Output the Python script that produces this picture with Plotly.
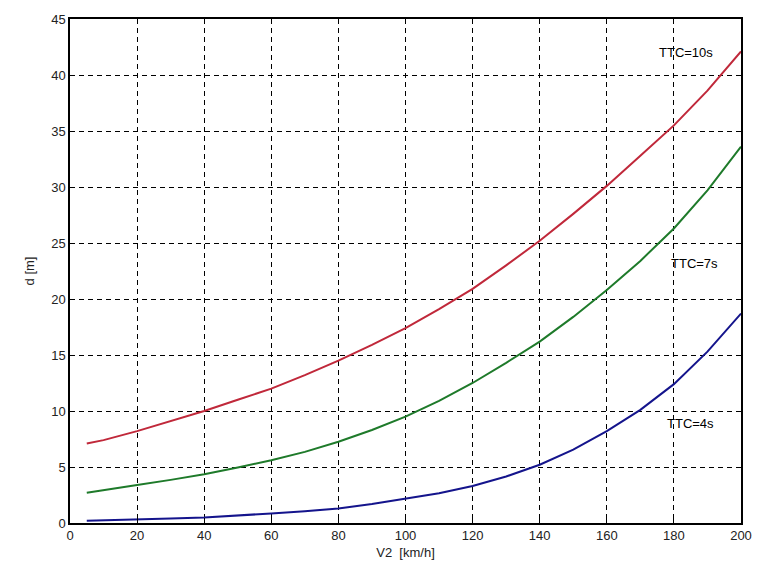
import plotly.graph_objects as go

v2 = [5, 10, 20, 30, 40, 50, 60, 70, 80, 90, 100, 110, 120, 130, 140, 150, 160, 170, 180, 190, 200]
d_ttc10 = [7.1, 7.4, 8.2, 9.1, 10.0, 11.0, 12.0, 13.2, 14.5, 15.9, 17.4, 19.1, 20.9, 23.0, 25.2,
           27.6, 30.1, 32.8, 35.5, 38.6, 42.1]
d_ttc7 = [2.7, 2.95, 3.4, 3.85, 4.35, 4.95, 5.6, 6.35, 7.25, 8.3, 9.5, 10.9, 12.5, 14.3, 16.2,
          18.4, 20.8, 23.4, 26.3, 29.7, 33.6]
d_ttc4 = [0.2, 0.23, 0.3, 0.4, 0.5, 0.65, 0.85, 1.05, 1.3, 1.7, 2.15, 2.65, 3.3, 4.15, 5.2,
          6.55, 8.2, 10.1, 12.4, 15.3, 18.7]

labels = ["TTC=10s", "TTC=7s", "TTC=4s"]
label_x = [183.5, 186, 185]
label_y = [42, 23.2, 8.9]

series = [d_ttc10, d_ttc7, d_ttc4]
colors = ["#c0283a", "#1e7a2a", "#14148c"]

fig = go.Figure()
for ys, c, name in zip(series, colors, labels):
    fig.add_trace(go.Scatter(x=v2, y=ys, mode="lines", name=name,
                             line=dict(color=c, width=2)))

for t, x, y in zip(labels, label_x, label_y):
    fig.add_annotation(x=x, y=y, text=t, showarrow=False, xref="x", yref="y",
                       font=dict(family="Liberation Sans, Arial", size=13, color="black"))

axis_common = dict(
    showline=True, linecolor="black", linewidth=1.5, mirror="allticks",
    ticks="inside", ticklen=5, tickcolor="black", tickwidth=1,
    showgrid=True, gridcolor="black", gridwidth=1.3, griddash="5px,4px",
    zeroline=False,
    tickfont=dict(family="Liberation Sans, Arial", size=13, color="#222"),
)

fig.update_xaxes(range=[0, 200], tickvals=list(range(0, 201, 20)),
                 title=dict(text="V2  [km/h]", standoff=6,
                            font=dict(family="Liberation Sans, Arial", size=13, color="#222")),
                 **axis_common)
fig.update_yaxes(range=[0, 45], tickvals=list(range(0, 46, 5)),
                 title=dict(text="d [m]", standoff=14,
                            font=dict(family="Liberation Sans, Arial", size=13, color="#222")),
                 **axis_common)

fig.update_layout(
    width=764, height=579,
    margin=dict(l=70, r=15, t=19, b=56),
    paper_bgcolor="white", plot_bgcolor="white",
    showlegend=False,
)

fig.write_html("out.html")
